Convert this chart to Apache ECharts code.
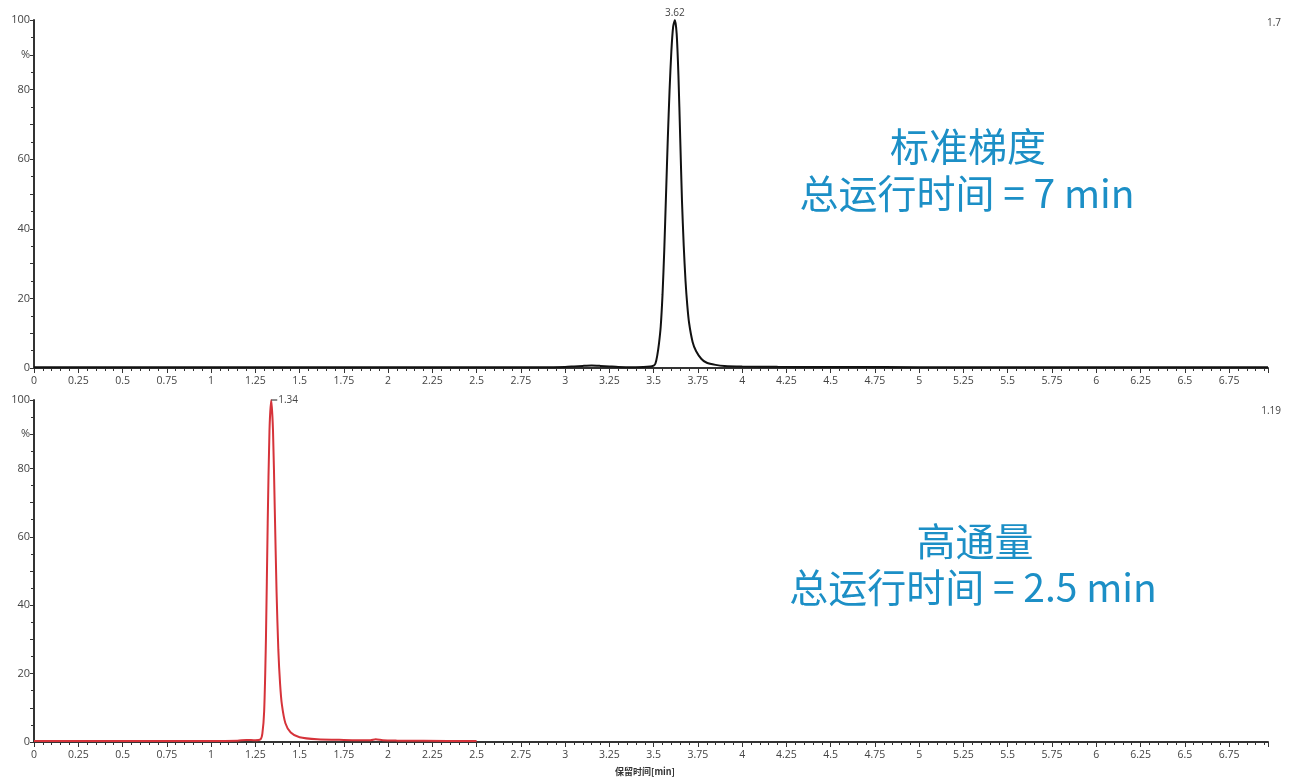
<!DOCTYPE html>
<html><head><meta charset="utf-8">
<script src="https://cdn.jsdelivr.net/npm/echarts@6/dist/echarts.min.js"></script>
<style>html,body{margin:0;padding:0;background:#fff}#c{width:1294px;height:780px}</style>
</head><body><div id="c"></div>
<script>
// Top trace: standard gradient (time min, intensity %)
const stdTime = [0, 0.5, 1.0, 1.5, 2.0, 2.5, 2.9, 3.0, 3.05, 3.1, 3.15, 3.2, 3.25, 3.3, 3.4, 3.48, 3.5, 3.51, 3.52, 3.53, 3.54, 3.55, 3.56, 3.57, 3.58, 3.59, 3.60, 3.61, 3.62, 3.63, 3.64, 3.65, 3.66, 3.67, 3.68, 3.69, 3.70, 3.72, 3.74, 3.77, 3.80, 3.85, 3.90, 4.0, 4.2, 4.5, 4.6, 5.0, 5.5, 6.0, 6.5, 6.97];
const stdVal  = [0.2, 0.2, 0.2, 0.2, 0.2, 0.2, 0.25, 0.3, 0.45, 0.6, 0.7, 0.6, 0.45, 0.3, 0.25, 0.4, 0.7, 1.3, 3.5, 7, 12, 21, 34, 50, 66, 80, 91, 98, 100, 96, 84, 66, 48, 35, 25, 18, 13, 7.5, 4.8, 2.6, 1.5, 0.9, 0.6, 0.45, 0.35, 0.3, 0.3, 0.25, 0.2, 0.2, 0.2, 0.2];
// Bottom trace: high throughput
const htTime = [0, 0.5, 1.0, 1.15, 1.2, 1.25, 1.28, 1.29, 1.30, 1.31, 1.32, 1.33, 1.34, 1.35, 1.36, 1.37, 1.38, 1.39, 1.40, 1.42, 1.45, 1.5, 1.6, 1.75, 1.9, 1.93, 1.97, 2.05, 2.2, 2.5];
const htVal  = [0.3, 0.3, 0.3, 0.4, 0.6, 0.5, 0.8, 2.5, 9, 30, 64, 91, 100, 91, 68, 44, 27, 17, 11, 5.5, 2.8, 1.4, 0.8, 0.6, 0.5, 0.8, 0.5, 0.4, 0.35, 0.3];
const yTicks = [0, 20, 40, 60, 80, 100];
const stdPeak = {time: 3.62, label: '3.62', scale: '1.7'};
const htPeak = {time: 1.34, label: '1.34', scale: '1.19'};
const notes = {std: ['标准梯度', '总运行时间 = 7 min'], ht: ['高通量', '总运行时间 = 2.5 min']};
const xName = '保留时间[min]';

const zip = (a, b) => a.map((t, i) => [t, b[i]]);
const font = 'Open Sans';
const axColor = '#333';

function xAxis(gi) {
  return {
    type: 'value', gridIndex: gi, min: 0, max: 6.97, interval: 0.25,
    axisLine: {onZero: false, lineStyle: {color: axColor, width: 2}},
    axisTick: {length: 5, lineStyle: {color: axColor}},
    minorTick: {show: true, splitNumber: 5, length: 3, lineStyle: {color: axColor}},
    splitLine: {show: false},
    axisLabel: {fontFamily: font, fontSize: 10.5, color: '#444', margin: 8, showMaxLabel: false,
      formatter: v => (Math.abs(v / 0.25 - Math.round(v / 0.25)) < 1e-6 ? String(+v.toFixed(2)) : '')}
  };
}
function yAxis(gi) {
  return {
    type: 'value', gridIndex: gi, min: 0, max: 100, interval: 10,
    axisLine: {show: true, lineStyle: {color: axColor, width: 2}},
    axisTick: {show: true, length: 4, lineStyle: {color: axColor}},
    minorTick: {show: true, splitNumber: 2, length: 3, lineStyle: {color: axColor}},
    splitLine: {show: false},
    axisLabel: {fontFamily: font, fontSize: 11, color: '#444', margin: 4,
      formatter: v => (yTicks.includes(v) ? String(v) : (v === 90 ? '%' : ''))}
  };
}
const chart = echarts.init(document.getElementById('c'), null, {renderer: 'canvas'});
const noteStyle = {fontFamily: '"Noto Sans CJK SC", "Noto Sans", sans-serif', fontSize: 39, fontWeight: 'normal', color: '#1c8fc6'};
chart.setOption({
  animation: false,
  grid: [
    {left: 34, top: 20, width: 1234, height: 348},
    {left: 34, top: 400, width: 1234, height: 342}
  ],
  xAxis: [xAxis(0), xAxis(1)],
  yAxis: [yAxis(0), yAxis(1)],
  title: [
    {text: stdPeak.scale, right: 8, top: 13, textStyle: {fontFamily: font, fontSize: 10, color: '#444', fontWeight: 'normal'}},
    {text: htPeak.scale, right: 8, top: 401, textStyle: {fontFamily: font, fontSize: 10, color: '#444', fontWeight: 'normal'}},
    {text: notes.std[0], left: 963, top: 122, textAlign: 'center', textStyle: noteStyle},
    {text: notes.std[1], left: 962, top: 169, textAlign: 'center', textStyle: noteStyle},
    {text: notes.ht[0], left: 970, top: 517, textAlign: 'center', textStyle: noteStyle},
    {text: notes.ht[1], left: 968, top: 563, textAlign: 'center', textStyle: noteStyle},
    {text: xName, left: 640, top: 762, textAlign: 'center', textStyle: {fontFamily: '"Noto Sans CJK SC", sans-serif', fontSize: 9, color: '#333', fontWeight: 'bold'}}
  ],
  series: [
    {type: 'line', xAxisIndex: 0, yAxisIndex: 0, data: zip(stdTime, stdVal), showSymbol: false, smooth: 0.25,
      lineStyle: {color: '#111', width: 2}, itemStyle: {color: '#111'},
      markPoint: {symbol: 'rect', symbolSize: [0.1, 0.1], data: [{coord: [stdPeak.time, 100]}],
        label: {show: true, position: 'top', distance: 2, formatter: stdPeak.label, fontFamily: font, fontSize: 10, color: '#444'}}},
    {type: 'line', xAxisIndex: 1, yAxisIndex: 1, data: zip(htTime, htVal), showSymbol: false, smooth: 0.25,
      lineStyle: {color: '#d6333a', width: 2}, itemStyle: {color: '#d6333a'},
      markPoint: {symbol: 'rect', symbolSize: [6, 1.2], symbolOffset: [3, 0], itemStyle: {color: '#444'}, data: [{coord: [htPeak.time, 100]}],
        label: {show: true, position: 'right', distance: 1, formatter: htPeak.label, fontFamily: font, fontSize: 10, color: '#444'}}}
  ]
});
</script></body></html>
